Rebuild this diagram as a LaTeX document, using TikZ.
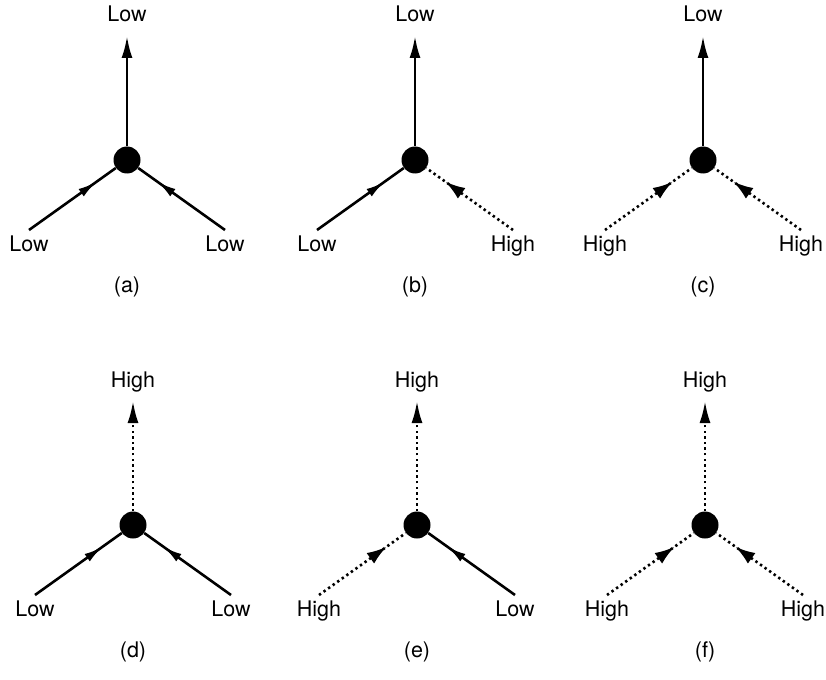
\documentclass[tikz,border=0pt]{standalone}
\usepackage{fontspec}
\setmainfont{TeX Gyre Heros}
\usetikzlibrary{arrows.meta,decorations.markings}

\begin{document}
\begin{tikzpicture}[x=1pt, y=-1pt, font=\fontsize{21.5}{24}\selectfont,
  Low/.style={line width=2.6pt},
  High/.style={line width=2.6pt, dash pattern=on 2.4pt off 3.2pt},
  inLow/.style={Low, postaction={decorate, decoration={markings,
      mark=at position 0.78 with {\arrow{Latex[length=19pt,width=9pt]}}}}},
  inHigh/.style={High, postaction={decorate, decoration={markings,
      mark=at position 0.78 with {\arrow{Latex[length=20pt,width=13pt]}}}}},
  dot/.style={circle, fill, inner sep=0pt, minimum size=27pt},
  lbl/.style={anchor=base, inner sep=0pt}]

\useasboundingbox (0,0) rectangle (826,679);

% one panel per case: centre, outflow, left inflow, right inflow, tag
\foreach \cx/\cy/\up/\lft/\rgt/\tag in {127/160/Low/Low/Low/a,
    415/160/Low/Low/High/b, 703/160/Low/High/High/c,
    133/525/High/Low/Low/d, 417/525/High/High/Low/e,
    705/525/High/High/High/f}{
  \begin{scope}[shift={(\cx,\cy)}]
    \node[dot] (dot-\tag) at (0,0) {};
    \coordinate (tip-\tag) at (0,-124);
    \coordinate (left-\tag) at (-98,70);
    \coordinate (right-\tag) at (98,70);

    \draw[\up, -{Latex[length=22pt,width=11pt]}] (dot-\tag) -- (tip-\tag);
    \draw[in\lft] (left-\tag) -- (dot-\tag);
    \draw[in\rgt] (right-\tag) -- (dot-\tag);

    \node[lbl] (out-\tag) at (0,-138) {\up};
    \node[lbl] (inl-\tag) at (-98,91) {\lft};
    \node[lbl] (inr-\tag) at (98,91) {\rgt};
    \node[lbl] (cap-\tag) at (0,132) {(\tag)};
  \end{scope}
}

\end{tikzpicture}
\end{document}
